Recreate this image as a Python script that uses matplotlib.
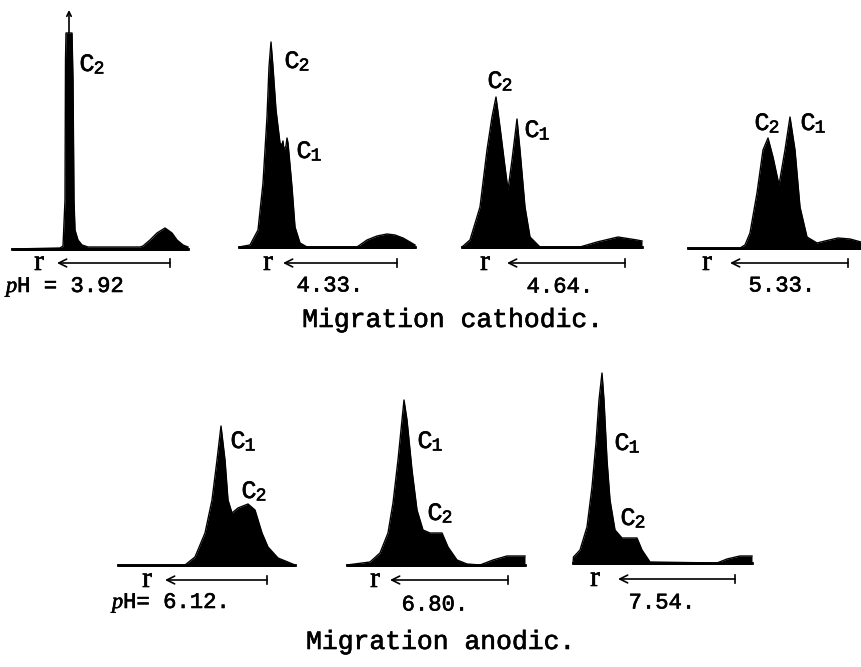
import matplotlib.pyplot as plt
import matplotlib.patheffects as pe

plt.rcParams['font.family'] = ['Liberation Mono', 'DejaVu Sans Mono']
plt.rcParams['mathtext.fontset'] = 'custom'
plt.rcParams['mathtext.it'] = 'Liberation Serif:italic'
plt.rcParams['mathtext.rm'] = 'Liberation Mono'

# densitometer traces: position along strip and trace height above baseline
x_392 = [0, 48, 51, 53, 53.5, 54, 60, 61, 62, 63, 66, 70, 76, 128, 131, 138, 145, 153, 160, 165, 171, 176]
h_392 = [0, 1, 3, 49, 189, 216, 216, 169, 49, 19, 9, 4, 2, 2, 3, 9, 16, 21, 16, 9, 4, 2]

x_433 = [0, 11, 19, 24, 28, 30, 32, 34, 37, 41, 43, 44, 45, 47, 48, 49, 53, 56, 61, 68,
         118, 128, 138, 148, 156, 164, 171, 176]
h_433 = [0, 2, 17, 64, 130, 180, 205, 180, 137, 104, 102, 106, 97, 101, 109, 104, 60, 20, 4, 0,
         0, 7, 11, 13, 12, 9, 5, 2]

x_464 = [0, 8, 18, 25, 30, 34, 38, 43, 46, 50, 55, 58, 63, 68, 78, 118, 135, 156, 175, 180]
h_464 = [0, 7, 40, 97, 130, 150, 120, 80, 57, 87, 128, 97, 40, 10, 0, 0, 5, 10, 7, 6]

x_533 = [0, 52, 57, 62, 69, 75, 80, 85, 91, 97, 102, 107, 112, 119, 129, 137, 150, 162, 173]
h_533 = [0, 0, 3, 15, 55, 98, 110, 91, 63, 98, 131, 98, 41, 11, 5, 7, 10, 9, 6]

x_612 = [0, 67, 77, 87, 94, 99, 103, 107, 110, 114, 120, 130, 137, 144, 150, 160, 177]
h_612 = [0, 0, 8, 32, 65, 105, 139, 105, 65, 52, 57, 61, 55, 32, 18, 7, 0]

x_680 = [0, 23, 33, 41, 46, 51, 55, 57, 60, 65, 70, 76, 83, 95, 101, 110, 120, 133, 146, 160, 178]
h_680 = [0, 3, 12, 32, 62, 105, 145, 165, 145, 95, 55, 35, 32, 32, 18, 5, 1, 0, 5, 9, 9]

x_754 = [0, 0.5, 7, 14, 19, 23, 26, 29, 31, 34, 37, 42, 49, 64, 69, 77, 144, 154, 167, 179]
h_754 = [0, 6, 13, 36, 76, 120, 163, 190, 163, 103, 63, 33, 25, 25, 13, 1, 0, 4, 7, 7]

ph_labels = ["$p$H = 3.92", "4.33.", "4.64.", "5.33.", "$p$H= 6.12.", "6.80.", "7.54."]
traces = [(x_392, h_392), (x_433, h_433), (x_464, h_464), (x_533, h_533),
          (x_612, h_612), (x_680, h_680), (x_754, h_754)]

# component labels for each trace (subscript, x, y)
peak_labels = [
    [("2", 92, 66)],
    [("2", 297, 63), ("1", 309, 153)],
    [("2", 500, 83), ("1", 537, 132)],
    [("2", 767, 125), ("1", 813, 125)],
    [("1", 243, 443), ("2", 254, 493)],
    [("1", 430, 443), ("2", 440, 515)],
    [("1", 627, 445), ("2", 633, 520)],
]

# layout in figure pixels
left = [12, 239, 462, 688, 118, 347, 573]
base = [249, 247, 247, 248, 565, 565, 563]
r_x = [39, 268, 485, 707, 147, 375, 595]
arrow_head = [57, 283, 507, 730, 165, 390, 618]
arrow_tail = [170, 397, 625, 848, 267, 508, 735]
arrow_y = [263, 263, 263, 263, 580, 580, 579]
lab_x = [6, 330, 560, 782, 112, 435, 662]
lab_y = [287, 286, 287, 286, 603, 605, 603]

ink = [pe.withStroke(linewidth=0.45, foreground='black')]

fig = plt.figure(figsize=(8.61, 6.67), dpi=100)
ax = fig.add_axes([0, 0, 1, 1])
ax.set_xlim(0, 861)
ax.set_ylim(667, 0)
ax.axis('off')

for i, (xs, hs) in enumerate(traces):
    px = [left[i] + v for v in xs]
    py = [base[i] - v for v in hs]
    ax.fill_between(px, [base[i] + 1.5] * len(px), py, color='black', lw=0)
    ax.plot(px, py, color='black', lw=1.0, solid_joinstyle='round')
    ax.plot([px[0], px[-1]], [base[i], base[i]], color='black', lw=2.0)

    # direction of migration
    ax.annotate('', xy=(arrow_head[i], arrow_y[i]), xytext=(arrow_tail[i], arrow_y[i]),
                arrowprops=dict(arrowstyle='->', color='black', lw=1.2,
                                shrinkA=0, shrinkB=0, mutation_scale=14))
    ax.plot([arrow_tail[i], arrow_tail[i]], [arrow_y[i] - 4, arrow_y[i] + 4], color='black', lw=1.2)
    ax.text(r_x[i], arrow_y[i], 'r', fontsize=21, fontfamily='Liberation Serif',
            ha='center', va='center', path_effects=ink)

    ha = 'left' if ph_labels[i].startswith('$p$') else 'center'
    ax.text(lab_x[i], lab_y[i], ph_labels[i], fontsize=16, ha=ha, va='center',
            path_effects=ink)

    for sub, tx, ty in peak_labels[i]:
        ax.text(tx - 5, ty - 2, 'C', fontsize=18, ha='center', va='center', path_effects=ink)
        ax.text(tx + 7, ty + 3, sub, fontsize=13, ha='center', va='center', path_effects=ink)

# off-scale peak at pH 3.92
ax.annotate('', xy=(left[0] + 57, 10), xytext=(left[0] + 57, base[0] - max(h_392)),
            arrowprops=dict(arrowstyle='->', color='black', lw=1.2,
                            shrinkA=0, shrinkB=0, mutation_scale=8))

ax.text(453, 320, "Migration cathodic.", fontsize=19, ha='center', va='center', path_effects=ink)
ax.text(441, 642, "Migration anodic.", fontsize=19, ha='center', va='center', path_effects=ink)

fig.savefig('out.png', dpi=100)
